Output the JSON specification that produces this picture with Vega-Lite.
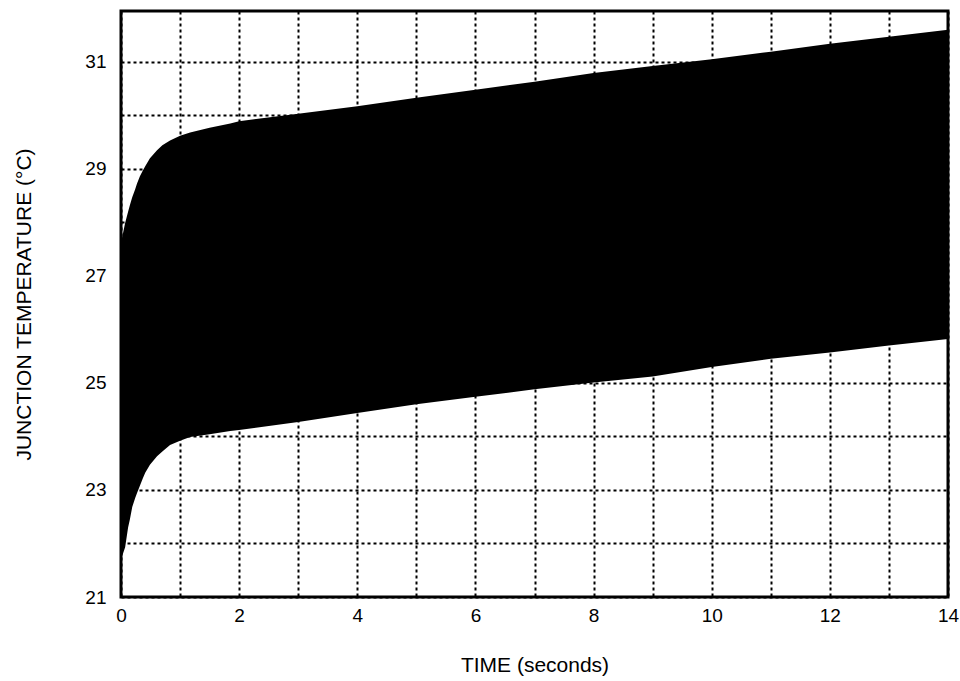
{
  "$schema": "https://vega.github.io/schema/vega-lite/v6.json",
  "width": 827,
  "height": 586,
  "autosize": {"type": "none"},
  "padding": {"left": 121, "top": 11, "right": 12, "bottom": 84},
  "background": "white",
  "config": {
    "view": {"stroke": "black", "strokeWidth": 3},
    "axis": {
      "grid": true,
      "gridColor": "black",
      "gridWidth": 2,
      "gridDash": [3, 3],
      "gridOpacity": 1,
      "domain": false,
      "ticks": false,
      "labelFont": "Liberation Sans Narrow, Liberation Sans, Arial",
      "labelFontSize": 19,
      "labelColor": "black",
      "titleFont": "Liberation Sans, Arial",
      "titleFontSize": 21,
      "titleFontWeight": "normal",
      "titleColor": "black"
    }
  },
  "data": {
    "values": [
      {"t": 0, "hi": 27.62, "lo": 21.7},
      {"t": 0.07, "hi": 27.99, "lo": 21.93},
      {"t": 0.12, "hi": 28.2, "lo": 22.3},
      {"t": 0.15, "hi": 28.32, "lo": 22.45},
      {"t": 0.19, "hi": 28.47, "lo": 22.68},
      {"t": 0.24, "hi": 28.62, "lo": 22.85},
      {"t": 0.27, "hi": 28.72, "lo": 22.94},
      {"t": 0.32, "hi": 28.86, "lo": 23.08},
      {"t": 0.37, "hi": 28.97, "lo": 23.22},
      {"t": 0.41, "hi": 29.05, "lo": 23.32},
      {"t": 0.49, "hi": 29.2, "lo": 23.47},
      {"t": 0.61, "hi": 29.35, "lo": 23.63},
      {"t": 0.7, "hi": 29.44, "lo": 23.72},
      {"t": 0.83, "hi": 29.53, "lo": 23.84},
      {"t": 1.0, "hi": 29.62, "lo": 23.92},
      {"t": 1.17, "hi": 29.68, "lo": 23.99},
      {"t": 1.5, "hi": 29.77, "lo": 24.04},
      {"t": 1.85, "hi": 29.85, "lo": 24.1},
      {"t": 2.0, "hi": 29.89, "lo": 24.12},
      {"t": 3.0, "hi": 30.03, "lo": 24.27},
      {"t": 4.0, "hi": 30.17, "lo": 24.44},
      {"t": 5.0, "hi": 30.33, "lo": 24.6},
      {"t": 6.0, "hi": 30.48, "lo": 24.74},
      {"t": 7.0, "hi": 30.63, "lo": 24.88},
      {"t": 8.0, "hi": 30.79, "lo": 25.01},
      {"t": 9.0, "hi": 30.92, "lo": 25.12},
      {"t": 10.0, "hi": 31.05, "lo": 25.3},
      {"t": 11.0, "hi": 31.19, "lo": 25.45},
      {"t": 12.0, "hi": 31.34, "lo": 25.57},
      {"t": 13.0, "hi": 31.47, "lo": 25.7},
      {"t": 14.0, "hi": 31.6, "lo": 25.82}
    ]
  },
  "mark": {"type": "area", "color": "black", "opacity": 1, "interpolate": "linear"},
  "encoding": {
    "x": {
      "field": "t",
      "type": "quantitative",
      "scale": {"domain": [0, 14], "nice": false, "zero": false},
      "axis": {
        "values": [0, 1, 2, 3, 4, 5, 6, 7, 8, 9, 10, 11, 12, 13, 14],
        "labelExpr": "datum.value % 2 == 0 ? datum.label : ''",
        "labelPadding": 9,
        "labelFlush": false,
        "title": "TIME (seconds)",
        "titlePadding": 29
      }
    },
    "y": {
      "field": "hi",
      "type": "quantitative",
      "scale": {"domain": [21, 31.95], "nice": false, "zero": false},
      "axis": {
        "values": [21, 22, 23, 24, 25, 26, 27, 28, 29, 30, 31],
        "labelExpr": "datum.value % 2 == 1 ? datum.label : ''",
        "labelPadding": 15,
        "labelFlush": false,
        "title": "JUNCTION TEMPERATURE (°C)",
        "titlePadding": 50
      }
    },
    "y2": {"field": "lo"}
  }
}
